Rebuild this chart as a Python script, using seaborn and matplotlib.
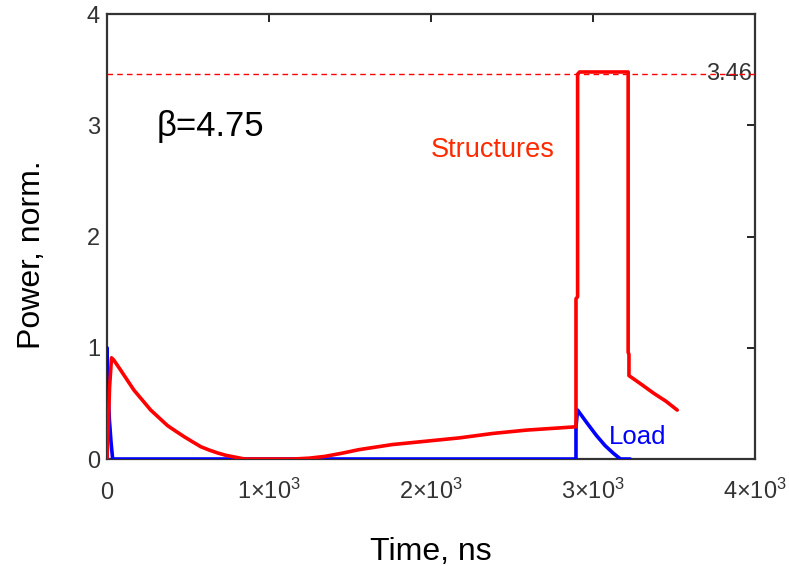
import matplotlib
matplotlib.use("Agg")
import matplotlib.pyplot as plt
import seaborn as sns
import pandas as pd

# ---- data ----
struct_t = [0, 8, 16, 28, 42, 84, 125, 166, 218, 270, 322, 374, 425, 477, 528, 580, 632,
            684, 735, 787, 850, 1150, 1250,
            1346, 1450, 1554, 1761, 1968, 2175, 2382, 2589, 2796, 2895, 2895, 2905, 2905,
            2917, 3060, 3217, 3217, 3222, 3222, 3300, 3376, 3450, 3520]
struct_p = [0.0, 0.3, 0.65, 0.91, 0.89, 0.80, 0.71, 0.62, 0.53, 0.44, 0.37, 0.30, 0.25, 0.20,
            0.155, 0.11, 0.08, 0.054, 0.033, 0.018, 0.0, 0.0, 0.008,
            0.024, 0.052, 0.084, 0.13, 0.16, 0.19, 0.23, 0.26, 0.28, 0.29, 1.44, 1.46, 3.46,
            3.48, 3.48, 3.48, 0.96, 0.94, 0.75, 0.67, 0.59, 0.52, 0.44]

load_t = [0, 0, 6, 15, 25, 35, 2895, 2895, 2905, 2965, 3022, 3075, 3127, 3170, 3230]
load_p = [0.0, 1.0, 0.62, 0.35, 0.15, 0.0, 0.0, 0.29, 0.44, 0.32, 0.21, 0.12, 0.05, 0.0, 0.0]

peak_level = 3.46
x_ticks = [0, 1000, 2000, 3000, 4000]
x_tick_labels = ["0", r"$1{\times}10^{3}$", r"$2{\times}10^{3}$", r"$3{\times}10^{3}$", r"$4{\times}10^{3}$"]
y_ticks = [0, 1, 2, 3, 4]
y_tick_labels = ["0", "1", "2", "3", "4"]

sns.set_style("white")
plt.rcParams["font.family"] = ["Liberation Sans", "DejaVu Sans"]
plt.rcParams["mathtext.fontset"] = "custom"
plt.rcParams["mathtext.rm"] = "Liberation Sans"
plt.rcParams["mathtext.it"] = "Liberation Sans"
plt.rcParams["mathtext.default"] = "regular"

fig = plt.figure(figsize=(7.89, 5.66), dpi=100)
ax = fig.add_axes([0.1356, 0.189, 0.8213, 0.786])

df_s = pd.DataFrame({"t": struct_t, "p": struct_p})
df_l = pd.DataFrame({"t": load_t, "p": load_p})

sns.lineplot(data=df_l, x="t", y="p", sort=False, estimator=None,
             color="#0000ff", lw=2.6, ax=ax, zorder=3)
sns.lineplot(data=df_s, x="t", y="p", sort=False, estimator=None,
             color="#ff0000", lw=2.6, ax=ax, zorder=4)

ax.text(3985, peak_level, "3.46", ha="right", va="center", fontsize=17,
        color="#333333", zorder=2)
ax.axhline(peak_level, color="#ff0000", lw=1.0, ls=(0, (4, 3)), zorder=5)

ax.set_xlim(0, 4000)
ax.set_ylim(0, 4)
ax.set_xticks(x_ticks)
ax.set_xticklabels(x_tick_labels)
ax.set_yticks(y_ticks)
ax.set_yticklabels(y_tick_labels)

ax.tick_params(axis="both", direction="in", length=6, width=1.4, color="#222222",
               labelsize=17, labelcolor="#333333", top=True, right=True)
ax.tick_params(axis="x", pad=29)
ax.tick_params(axis="y", pad=5)
for lbl in ax.get_xticklabels():
    lbl.set_verticalalignment("baseline")
for sp in ax.spines.values():
    sp.set_color("#333333")
    sp.set_linewidth(1.6)

ax.set_xlabel("Time, ns", fontsize=23, color="black")
ax.set_ylabel("Power, norm.", fontsize=23, color="black")
ax.xaxis.set_label_coords(0.5, -0.175)
ax.yaxis.set_label_coords(-0.093, 0.46)

ax.text(0.077, 0.725, "β=4.75", transform=ax.transAxes, fontsize=25,
        color="black", ha="left", va="baseline")
ax.text(0.50, 0.695, "Structures", transform=ax.transAxes, fontsize=19.5,
        color="#ff2a00", ha="left", va="center")
ax.text(0.775, 0.05, "Load", transform=ax.transAxes, fontsize=18.5,
        color="#0000ff", ha="left", va="center")

fig.savefig("out.png", dpi=100)
